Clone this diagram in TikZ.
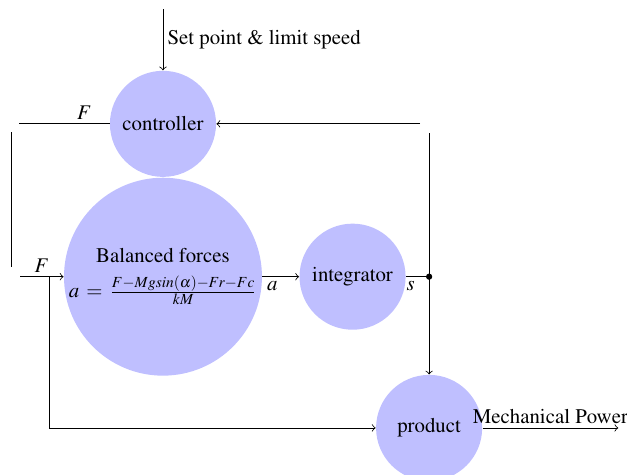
\documentclass[tikz,border=0pt]{standalone}
\usepackage[T1]{fontenc}
\usepackage{mathptmx}
\usetikzlibrary{calc,positioning}

\begin{document}
\begin{tikzpicture}[every node/.style={inner sep=2pt},
    block/.style={circle, fill=blue!25, inner sep=1pt, minimum size=17.9mm}]

    \useasboundingbox (0,0) rectangle (10.58,-8.01);

    \node[block] (ctrl) at (2.75,-2.09) {controller};
    \node[block, minimum size=33.4mm, below=0mm of ctrl,
        label={[align=center]center:Balanced forces\\[5pt] $a\,=\,\frac{F-Mgsin(\alpha)-Fr-Fc}{kM}$}] (bal) {};
    \node[block, right=6.2mm of bal] (integ) {integrator};
    \coordinate[right=3.9mm of integ] (sdot);
    \node[block, below=16.5mm of sdot] (prod) {product};

    % Set point input.
    \coordinate[above=10.3mm of ctrl.north] (setp);
    \draw[->] (setp) -- (ctrl) node[midway, right] {Set point \& limit speed};

    % Force out of the controller.
    \coordinate[left=15.2mm of ctrl.west] (fout);
    \draw (ctrl) -- (fout) node[pos=0.28, above] {$F$};
    \coordinate (fa) at (0.2,-2.23);
    \coordinate (fb) at (0.2,-4.50);
    \draw (fa) -- (fb);

    % Force into balanced forces.
    \coordinate[left=7.3mm of bal.west] (fin);
    \draw[->] (fin) -- (bal) node[midway, above] {$F$};
    \coordinate[left=2.4mm of bal.west] (fsplit);
    \draw[->] (fsplit) |- (prod);

    \draw[->] (bal) -- (integ) node[pos=0.27, below] {$a$};
    \draw (integ) -- (sdot) node[pos=0.2, below] {$s$};
    \fill (sdot) circle (1.5pt);
    \draw[->] (sdot) -- (prod);

    % Speed back to the controller.
    \coordinate (fbtop) at ($(sdot)+(0,2.43)$);
    \draw (sdot) -- (fbtop);
    \coordinate (fbend) at (7.09,-2.09);
    \draw[->] (fbend) -- (ctrl);

    % Output.
    \coordinate[right=22.9mm of prod.east] (pout);
    \draw[->] (prod) -- (pout) node[midway, above] {Mechanical Power};

\end{tikzpicture}
\end{document}
